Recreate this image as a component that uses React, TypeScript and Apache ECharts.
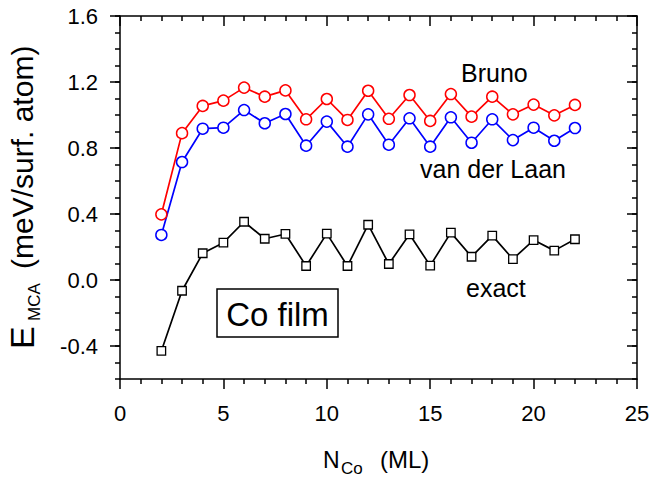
import React, { useEffect, useRef } from 'react';
import * as echarts from 'echarts';

const layers = [2, 3, 4, 5, 6, 7, 8, 9, 10, 11, 12, 13, 14, 15, 16, 17, 18, 19, 20, 21, 22];
const bruno = [0.398, 0.89, 1.055, 1.087, 1.166, 1.111, 1.149, 0.974, 1.097, 0.97, 1.147, 0.977, 1.121, 0.964, 1.127, 0.99, 1.111, 1.004, 1.063, 0.998, 1.061];
const vanDerLaan = [0.273, 0.715, 0.917, 0.923, 1.03, 0.95, 1.006, 0.814, 0.96, 0.808, 1.004, 0.82, 0.98, 0.808, 0.986, 0.832, 0.974, 0.848, 0.923, 0.844, 0.921];
const exact = [-0.43, -0.065, 0.162, 0.226, 0.353, 0.25, 0.279, 0.085, 0.281, 0.085, 0.335, 0.097, 0.277, 0.087, 0.287, 0.141, 0.269, 0.127, 0.242, 0.178, 0.247];
const yTicks = [-0.4, 0, 0.4, 0.8, 1.2, 1.6];

const FONT = '"Liberation Sans", Arial, Helvetica, sans-serif';

const pairs = (ys: number[]) => layers.map((x, i) => [x, ys[i]]);

function txt(text: string, x: number, y: number, fontSize: number, align = 'left') {
  return {
    type: 'text',
    x,
    y,
    style: {
      text,
      fontSize,
      fontFamily: FONT,
      fill: '#000',
      textAlign: align,
      align,
      textVerticalAlign: 'middle',
      verticalAlign: 'middle',
    },
  };
}

export default function App() {
  const ref = useRef<HTMLDivElement>(null);
  useEffect(() => {
    if (!ref.current) return;
    const chart = echarts.init(ref.current, undefined, { renderer: 'svg' });
    const lineStyle = { color: '#000', width: 1.5 };
    const yBase = { type: 'value', min: -0.6, max: 1.6, splitLine: { show: false } };
    const option: any = {
      animation: false,
      backgroundColor: '#fff',
      grid: { left: 120, right: 16, top: 16, bottom: 100 },
      xAxis: [
        {
          type: 'value', min: 0, max: 25, interval: 5, position: 'bottom',
          axisLine: { show: true, onZero: false, lineStyle },
          axisTick: { show: true, inside: false, length: 10, lineStyle },
          minorTick: { show: true, splitNumber: 5, length: 5, lineStyle },
          axisLabel: { fontSize: 22, fontFamily: FONT, color: '#000', margin: 23 },
          splitLine: { show: false },
        },
        {
          type: 'value', min: 0, max: 25, interval: 5, position: 'top',
          axisLine: { show: true, onZero: false, lineStyle },
          axisTick: { show: true, inside: true, length: 10, lineStyle },
          minorTick: { show: true, splitNumber: 5, length: 5, lineStyle },
          axisLabel: { show: false },
          splitLine: { show: false },
        },
      ],
      yAxis: [
        {
          ...yBase, position: 'left',
          axisLine: { show: true, onZero: false, lineStyle },
          axisTick: { show: true, inside: false, length: 10, lineStyle, customValues: yTicks },
          axisLabel: {
            fontSize: 22, fontFamily: FONT, color: '#000', margin: 22,
            customValues: yTicks,
            formatter: (v: number) => v.toFixed(1),
          },
        },
        {
          ...yBase, position: 'left', interval: 0.1,
          axisLine: { show: false, onZero: false },
          axisTick: { show: true, inside: false, length: 5, lineStyle },
          axisLabel: { show: false },
        },
        {
          ...yBase, position: 'right',
          axisLine: { show: true, onZero: false, lineStyle },
          axisTick: { show: true, inside: true, length: 10, lineStyle, customValues: yTicks },
          axisLabel: { show: false },
        },
        {
          ...yBase, position: 'right', interval: 0.1,
          axisLine: { show: false, onZero: false },
          axisTick: { show: true, inside: true, length: 5, lineStyle },
          axisLabel: { show: false },
        },
      ],
      series: [
        {
          name: 'Bruno', type: 'line', data: pairs(bruno),
          symbol: 'circle', symbolSize: 11,
          lineStyle: { color: '#ff0000', width: 1.7 },
          itemStyle: { color: '#fff', borderColor: '#ff0000', borderWidth: 1.5 },
          z: 3,
        },
        {
          name: 'van der Laan', type: 'line', data: pairs(vanDerLaan),
          symbol: 'circle', symbolSize: 11,
          lineStyle: { color: '#0000ff', width: 1.7 },
          itemStyle: { color: '#fff', borderColor: '#0000ff', borderWidth: 1.5 },
          z: 3,
        },
        {
          name: 'exact', type: 'line', data: pairs(exact),
          symbol: 'rect', symbolSize: 8.5,
          lineStyle: { color: '#000', width: 1.7 },
          itemStyle: { color: '#fff', borderColor: '#000', borderWidth: 1.3 },
          z: 3,
        },
      ],
      graphic: [
        txt('Bruno', 461, 72.5, 25),
        txt('van der Laan', 420, 169, 25),
        txt('exact', 466, 288, 25),
        {
          type: 'rect',
          shape: { x: 217, y: 289, width: 121, height: 48 },
          style: { fill: '#fff', stroke: '#000', lineWidth: 1.5 },
        },
        txt('Co film', 277.5, 314, 33, 'center'),
        txt('N', 323, 459.5, 23),
        txt('Co', 341, 468.5, 17),
        txt('(ML)', 380, 459.5, 24),
        {
          type: 'group',
          x: 22,
          y: 347,
          rotation: Math.PI / 2,
          children: [
            txt('E', -2, 0, 34),
            txt('MCA', 26, 12, 17),
            txt('(meV/surf. atom)', 78, 0, 30),
          ],
        },
      ],
    };
    chart.setOption(option);
    return () => chart.dispose();
  }, []);
  return (
    <div
      ref={ref}
      style={{ width: 653, height: 479, position: 'fixed', left: 0, top: 0, background: '#fff' }}
    />
  );
}
